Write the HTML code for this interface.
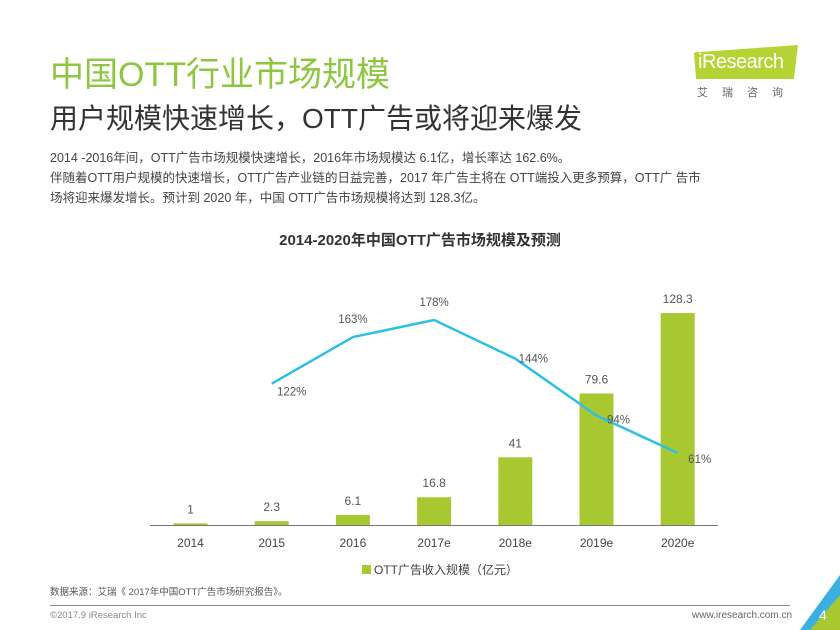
<!DOCTYPE html>
<html><head><meta charset="utf-8"><style>
body{margin:0;width:840px;height:630px;overflow:hidden;background:#fff;font-family:"Liberation Sans","Noto Sans CJK SC",sans-serif;position:relative}
.a{position:absolute;white-space:nowrap}
</style></head><body>
<div class="a" style="left:50px;top:47px;font-size:34px;color:#8dc63f">中国OTT行业市场规模</div>
<div class="a" style="left:50px;top:97px;font-size:28px;color:#333">用户规模快速增长，OTT广告或将迎来爆发</div>
<div class="a" style="left:50px;top:148px;font-size:12.5px;line-height:20px;color:#444">2014 -2016年间，OTT广告市场规模快速增长，2016年市场规模达 6.1亿，增长率达 162.6%。<br>伴随着OTT用户规模的快速增长，OTT广告产业链的日益完善，2017 年广告主将在 OTT端投入更多预算，OTT广 告市<br>场将迎来爆发增长。预计到 2020 年，中国 OTT广告市场规模将达到 128.3亿。</div>
<div style="position:absolute;left:694px;top:45px;width:104px;height:34px">
<div style="position:absolute;left:0;top:0;width:104px;height:34px;background:#b5d334;clip-path:polygon(0 22%,100% 0,96% 100%,2% 100%)"></div>
<div class="a" style="left:4px;top:6px;font-size:20px;color:#fff;letter-spacing:-0.5px">iResearch</div></div>
<div class="a" style="left:697px;top:84px;font-size:11px;color:#666;letter-spacing:14px">艾瑞咨询</div>
<div class="a" style="left:0;width:840px;text-align:center;top:229px;font-size:15px;font-weight:bold;color:#333">2014-2020年中国OTT广告市场规模及预测</div>
<svg class="a" style="left:0;top:0" width="840" height="630" id="svg"></svg>
<div class="a" style="left:362px;top:561px;font-size:12px;color:#444"><span style="display:inline-block;width:9px;height:9px;background:#a8c832;margin-right:3px"></span>OTT广告收入规模（亿元）</div>
<div class="a" style="left:50px;top:584px;font-size:9.5px;color:#555">数据来源：艾瑞《 2017年中国OTT广告市场研究报告》。</div>
<div style="position:absolute;left:50px;top:605px;width:740px;height:1px;background:#888"></div>
<div class="a" style="left:50px;top:610px;font-size:9.5px;color:#888">©2017.9 iResearch Inc</div>
<div class="a" style="left:692px;top:610px;font-size:10px;color:#666">www.iresearch.com.cn</div>
<div style="position:absolute;left:800px;top:575px;width:40px;height:55px;background:#3bb0e0;clip-path:polygon(100% 0,100% 100%,0 100%)"></div>
<div style="position:absolute;left:810px;top:595px;width:30px;height:35px;background:#a8c832;clip-path:polygon(100% 0,100% 100%,0 100%)"></div>
<div class="a" style="left:819px;top:607px;font-size:14px;color:#fff">4</div>
<script>
const categories=["2014","2015","2016","2017e","2018e","2019e","2020e"];
const revenue=[1,2.3,6.1,16.8,41,79.6,128.3];
const growth=[null,122,163,178,144,94,61];
const growthLabels=["","122%","163%","178%","144%","94%","61%"];
const svg=document.getElementById('svg');const NS='http://www.w3.org/2000/svg';
const x=i=>190.5+i*81.2;
const yb=v=>525-v*1.652;
const yl=v=>522.4-v*1.137;
function mk(t,a){const e=document.createElementNS(NS,t);for(const k in a)e.setAttribute(k,a[k]);svg.appendChild(e);return e;}
const ax=mk('line',{x1:150,x2:718,y1:525.5,y2:525.5,stroke:'#777','stroke-width':1});


categories.forEach((c,i)=>{
 const r=mk('rect',{x:x(i)-17,y:yb(revenue[i]),width:34,height:525-yb(revenue[i]),fill:'#a8c832'});
 
 
 const t=mk('text',{x:x(i),y:yb(revenue[i])-10,'text-anchor':'middle','font-size':12,fill:'#555'});t.textContent=String(revenue[i]);
 
 
 const l=mk('text',{x:x(i),y:547,'text-anchor':'middle','font-size':12,fill:'#444'});l.textContent=c;
 
 
});
let pts=[];growth.forEach((g,i)=>{if(g!=null)pts.push(x(i)+','+yl(g));});
const pl=mk('polyline',{points:pts.join(' '),fill:'none',stroke:'#2ec0e3','stroke-width':2.5,'stroke-linejoin':'round'});


const off=[null,[20,8],[0,-18],[0,-18],[18,0],[22,4],[22,6]];
growth.forEach((g,i)=>{if(g==null)return;
 const t=mk('text',{x:x(i)+off[i][0],y:yl(g)+off[i][1]+4,'text-anchor':'middle','font-size':11.5,fill:'#555'});t.textContent=growthLabels[i];
 
 
});
</script>
</body></html>
